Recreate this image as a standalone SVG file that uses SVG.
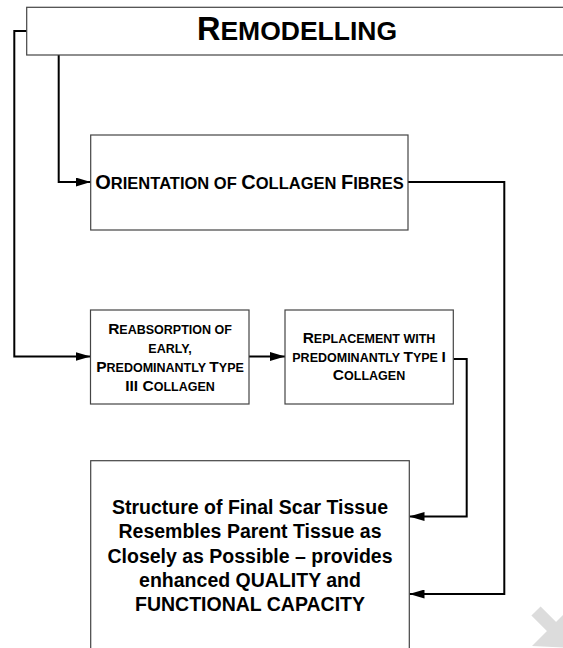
<svg xmlns="http://www.w3.org/2000/svg" width="563" height="648" viewBox="0 0 563 648">
<style>
.box{fill:#fff;stroke:#444;stroke-width:1.2}
.conn{fill:none;stroke:#000;stroke-width:2}
text{font-family:"Liberation Sans",Arial,sans-serif;font-weight:bold;fill:#000;text-anchor:middle}
.sm{font-size:12.5px}
.lg{font-size:15.5px}
.fin{font-size:19.5px}
</style>
<defs>
<marker id="ah" markerWidth="15" markerHeight="9" refX="15" refY="4.5" orient="auto" markerUnits="userSpaceOnUse"><path d="M0,0 L15,4.5 L0,9 z" fill="#000"/></marker>
</defs>
<rect width="563" height="648" fill="#fff"/>
<g id="watermark">
<line x1="536" y1="611" x2="553" y2="628" stroke="#dcdcdc" stroke-width="13"/>
<polygon points="532,646 570,608 572,648" fill="#dcdcdc"/>
</g>
<g id="connectors">
<path class="conn" d="M26.7,31 H14.3 V356.5 H90.5" marker-end="url(#ah)"/>
<path class="conn" d="M58.7,55 V182 H90.7" marker-end="url(#ah)"/>
<path class="conn" d="M249,356.5 H285" marker-end="url(#ah)"/>
<path class="conn" d="M408,182 H504.3 V594 H409.5" marker-end="url(#ah)"/>
<path class="conn" d="M453.3,359 H466.7 V516.5 H409.5" marker-end="url(#ah)"/>
</g>
<g id="remodelling">
<rect class="box" x="26.7" y="7.3" width="560" height="47.7"/>
<text x="297" y="39.5"><tspan font-size="32.5">R</tspan><tspan font-size="26.5">EMODELLING</tspan></text>
</g>
<g id="orientation">
<rect class="box" x="90.7" y="135" width="317.3" height="95"/>
<text x="249.5" y="189"><tspan font-size="20">O</tspan><tspan font-size="16.5">RIENTATION OF </tspan><tspan font-size="20">C</tspan><tspan font-size="16.5">OLLAGEN </tspan><tspan font-size="20">F</tspan><tspan font-size="16.5">IBRES</tspan></text>
</g>
<g id="reabsorption">
<rect class="box" x="90.5" y="310" width="158.5" height="94"/>
<text x="170" y="333.5"><tspan class="lg">R</tspan><tspan class="sm">EABSORPTION OF</tspan></text>
<text x="170" y="352.5"><tspan class="sm">EARLY,</tspan></text>
<text x="170" y="371.5"><tspan class="lg">P</tspan><tspan class="sm">REDOMINANTLY </tspan><tspan class="lg">T</tspan><tspan class="sm">YPE</tspan></text>
<text x="170" y="390.5"><tspan class="lg">III C</tspan><tspan class="sm">OLLAGEN</tspan></text>
</g>
<g id="replacement">
<rect class="box" x="285" y="310" width="168.3" height="94"/>
<text x="369" y="343"><tspan class="lg">R</tspan><tspan class="sm">EPLACEMENT WITH</tspan></text>
<text x="369" y="361.5"><tspan class="sm">PREDOMINANTLY </tspan><tspan class="lg">T</tspan><tspan class="sm">YPE </tspan><tspan class="lg">I</tspan></text>
<text x="369" y="380"><tspan class="lg">C</tspan><tspan class="sm">OLLAGEN</tspan></text>
</g>
<g id="final">
<rect class="box" x="90.7" y="460.7" width="318.6" height="200"/>
<text class="fin" x="250" y="514">Structure of Final Scar Tissue</text>
<text class="fin" x="250" y="538.3">Resembles Parent Tissue as</text>
<text class="fin" x="250" y="562.6">Closely as Possible – provides</text>
<text class="fin" x="250" y="586.9">enhanced QUALITY and</text>
<text class="fin" x="250" y="611.2">FUNCTIONAL CAPACITY</text>
</g>
</svg>
